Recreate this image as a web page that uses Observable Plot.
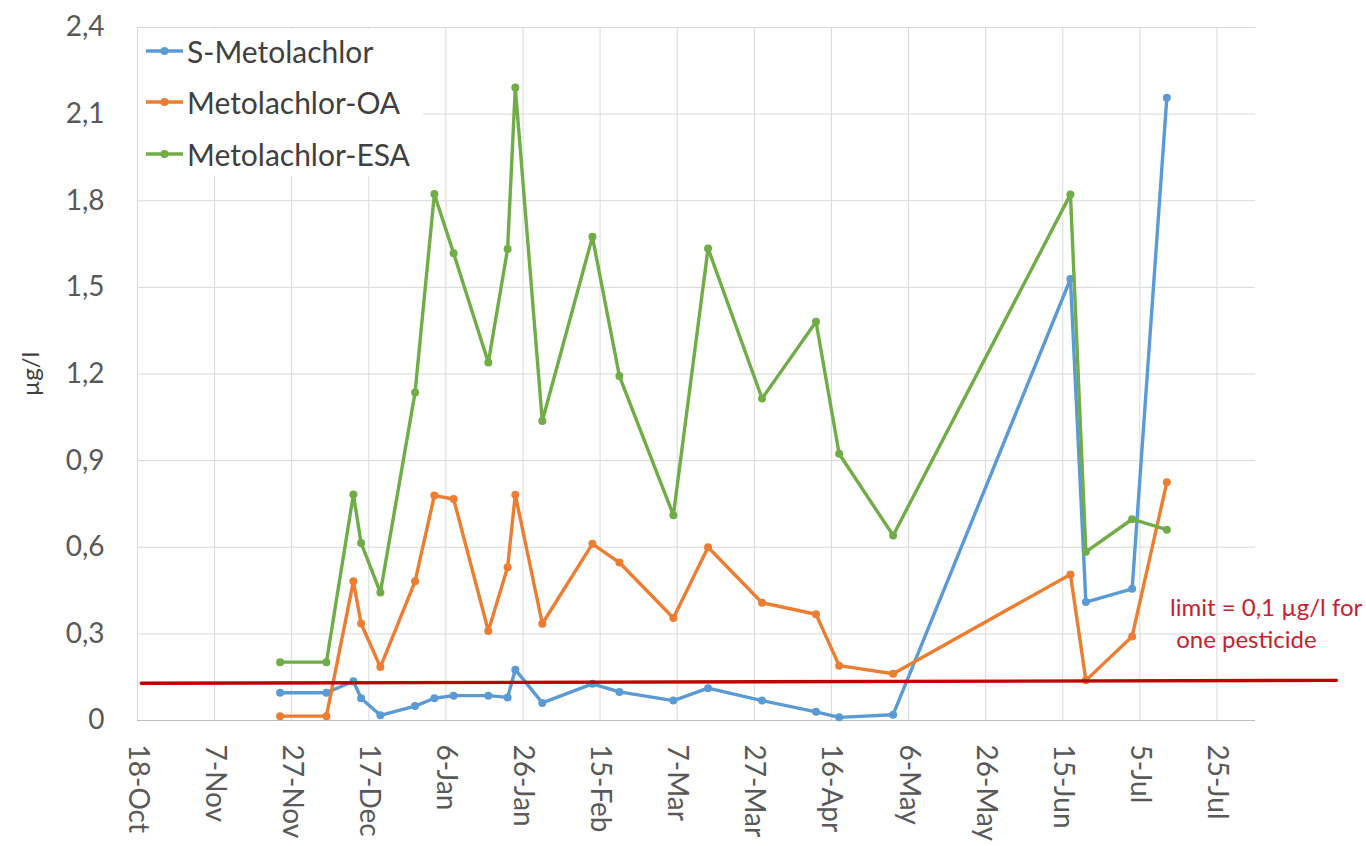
<!DOCTYPE html>
<html>
<head>
<meta charset="utf-8">
<script src="https://cdn.jsdelivr.net/npm/d3@7"></script>
<script src="https://cdn.jsdelivr.net/npm/@observablehq/plot@0.6"></script>
<style>
  body { margin: 0; background: #fff; font-family: Lato, "Open Sans", sans-serif; }
  #wrap { position: relative; width: 1366px; height: 846px; }
  #legend { position: absolute; left: 138px; top: 29px; width: 285px; height: 147px; background: #fff; }
  .item { position: absolute; left: 0; height: 40px; display: flex; align-items: center; font-size: 30px; color: #404040; white-space: nowrap; }
  .item svg { margin-left: 8px; margin-right: 4px; }
  #limit { position: absolute; left: 1170px; top: 591px; font-size: 24px; color: #c8202f; line-height: 32px; white-space: pre; }
</style>
</head>
<body>
<div id="wrap">
  <div id="chart"></div>
  <div id="legend"></div>
  <div id="limit"></div>
</div>
<script>
// ---- data ----
const sampleDates = ["2018-11-24","2018-12-06","2018-12-13","2018-12-15","2018-12-20","2018-12-29",
  "2019-01-03","2019-01-08","2019-01-17","2019-01-22","2019-01-24","2019-01-31",
  "2019-02-13","2019-02-20","2019-03-06","2019-03-15","2019-03-29","2019-04-12",
  "2019-04-18","2019-05-02","2019-06-17","2019-06-21","2019-07-03","2019-07-12"];
const sMetolachlor   = [0.096,0.096,0.136,0.077,0.018,0.050,0.077,0.086,0.086,0.080,0.176,0.061,
                        0.127,0.099,0.069,0.112,0.069,0.030,0.011,0.020,1.529,0.410,0.456,2.157];
const metolachlorOA  = [0.015,0.015,0.482,0.336,0.185,0.482,0.779,0.767,0.310,0.531,0.782,0.335,
                        0.612,0.547,0.355,0.600,0.408,0.368,0.190,0.162,0.506,0.139,0.291,0.825];
const metolachlorESA = [0.202,0.202,0.783,0.615,0.443,1.136,1.823,1.618,1.240,1.633,2.192,1.037,
                        1.675,1.193,0.711,1.635,1.115,1.381,0.924,0.641,1.822,0.584,0.697,0.661];
const seriesNames  = ["S-Metolachlor","Metolachlor-OA","Metolachlor-ESA"];
const seriesColors = ["#5b9bd5","#ed7d31","#70ad47"];
const xTickDates = ["2018-10-18","2018-11-07","2018-11-27","2018-12-17","2019-01-06","2019-01-26",
  "2019-02-15","2019-03-07","2019-03-27","2019-04-16","2019-05-06","2019-05-26",
  "2019-06-15","2019-07-05","2019-07-25"];
const xDomain = ["2018-10-18","2019-08-04"];
const yTicks = [0,0.3,0.6,0.9,1.2,1.5,1.8,2.1,2.4];
const limitDates  = ["2018-10-19","2019-08-25"];
const limitValues = [0.129,0.139];
const limitLabel = "limit = 0,1 \u00b5g/l for\n one pesticide";
const yLabel = "\u00b5g/l";

// ---- build ----
const parse = d3.utcParse("%Y-%m-%d");
const allValues = [sMetolachlor, metolachlorOA, metolachlorESA];
const rowsBySeries = seriesNames.map((name, s) =>
  sampleDates.map((d, i) => ({date: parse(d), value: allValues[s][i], series: name})));
const limitRows = limitDates.map((d, i) => ({date: parse(d), value: limitValues[i]}));
const fmtY = v => v === 0 ? "0" : v.toFixed(1).replace(".", ",");

const seriesMarks = rowsBySeries.flatMap((rows, s) => [
  Plot.line(rows, {x: "date", y: "value", stroke: seriesColors[s], strokeWidth: 3.4, strokeLinejoin: "round"}),
  Plot.dot(rows, {x: "date", y: "value", fill: seriesColors[s], r: 4})
]);

const chart = Plot.plot({
  width: 1366, height: 846,
  marginLeft: 137, marginRight: 111, marginTop: 27, marginBottom: 126,
  style: {fontFamily: "Lato, 'Open Sans', sans-serif", background: "#fff", overflow: "visible"},
  x: {type: "utc", domain: xDomain.map(parse)},
  y: {domain: [0, 2.4]},
  marks: [
    Plot.gridY(yTicks, {stroke: "#d9d9d9", strokeOpacity: 1, strokeWidth: 1}),
    Plot.gridX(xTickDates.map(parse), {stroke: "#d9d9d9", strokeOpacity: 1, strokeWidth: 1}),
    Plot.ruleY([0], {stroke: "#bfbfbf", strokeWidth: 1.2}),
    Plot.axisY(yTicks, {tickSize: 0, tickPadding: 33, fontSize: 28, color: "#595959", tickFormat: fmtY, label: null}),
    Plot.axisX(xTickDates.map(parse), {tickSize: 0, tickPadding: 24, tickRotate: 90, fontSize: 28, color: "#595959",
      tickFormat: d3.utcFormat("%-d-%b"), label: null}),
    ...seriesMarks,
    Plot.line(limitRows, {x: "date", y: "value", stroke: "#c00000", strokeWidth: 3.4}),
    Plot.text([yLabel], {frameAnchor: "left", textAnchor: "middle", rotate: -90, dx: -106, fontSize: 24, fill: "#404040"})
  ]
});
document.getElementById("chart").appendChild(chart);

// legend
const legend = document.getElementById("legend");
const centers = [21.7, 72.7, 125];
seriesNames.forEach((name, i) => {
  const item = document.createElement("div");
  item.className = "item";
  item.style.top = (centers[i] - 20) + "px";
  item.innerHTML = `<svg width="37" height="10"><line x1="0" y1="5" x2="37" y2="5" stroke="${seriesColors[i]}" stroke-width="3.4"/><circle cx="18.5" cy="5" r="4" fill="${seriesColors[i]}"/></svg><span>${name}</span>`;
  legend.appendChild(item);
});
document.getElementById("limit").textContent = limitLabel;
</script>
</body>
</html>
